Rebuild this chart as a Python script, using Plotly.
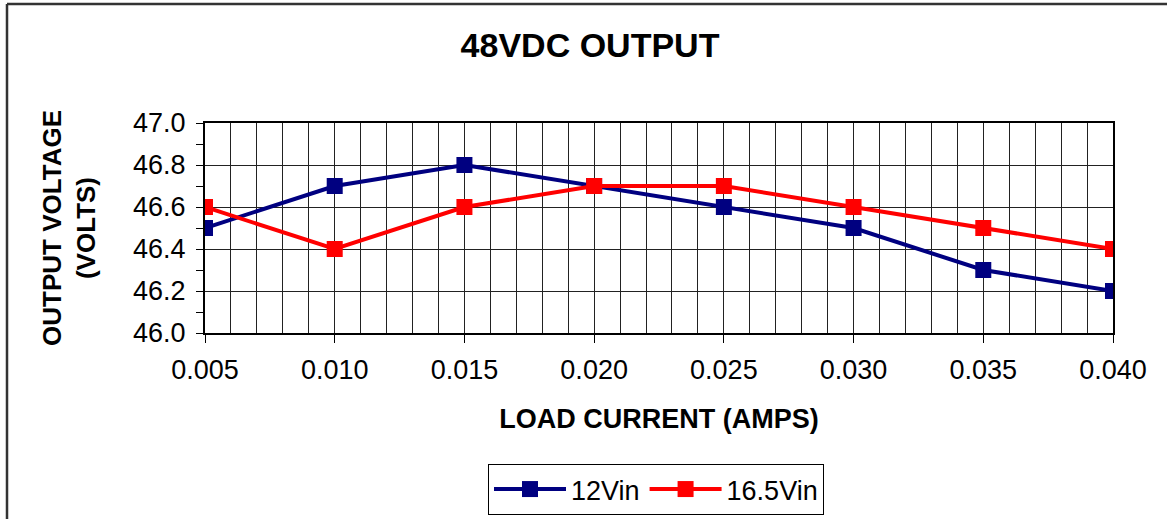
import plotly.graph_objects as go

load_current = [0.005, 0.010, 0.015, 0.020, 0.025, 0.030, 0.035, 0.040]
v_12vin = [46.5, 46.7, 46.8, 46.7, 46.6, 46.5, 46.3, 46.2]
v_16_5vin = [46.6, 46.4, 46.6, 46.7, 46.7, 46.6, 46.5, 46.4]
series_names = ["12Vin", "16.5Vin"]
x_ticks = ["0.005", "0.010", "0.015", "0.020", "0.025", "0.030", "0.035", "0.040"]

FONT = "Liberation Sans, Arial, sans-serif"
W, H = 1167, 519
L, R, T, B = 205, 54, 123, 186
pw, ph = W - L - R, H - T - B

fig = go.Figure()
fig.add_trace(go.Scatter(x=load_current, y=v_12vin, name=series_names[0], mode="lines+markers",
                         line=dict(color="#000080", width=4),
                         marker=dict(symbol="square", size=16, color="#000080")))
fig.add_trace(go.Scatter(x=load_current, y=v_16_5vin, name=series_names[1], mode="lines+markers",
                         line=dict(color="#FF0000", width=4),
                         marker=dict(symbol="square", size=16, color="#FF0000")))

fig.update_layout(
    width=W, height=H,
    margin=dict(l=L, r=R, t=T, b=B, autoexpand=False),
    paper_bgcolor="white", plot_bgcolor="white",
    font=dict(family=FONT, color="black"),
    title=dict(text="<b>48VDC OUTPUT</b>", x=590 / W, xanchor="center",
               y=1 - 45 / H, yanchor="middle", font=dict(size=34, family=FONT, color="black")),
    showlegend=True,
    legend=dict(orientation="h", x=(656 - L) / pw, xanchor="center",
                y=(T + ph - 464) / ph, yanchor="top",
                bordercolor="black", borderwidth=1, bgcolor="white",
                font=dict(size=27, family=FONT), itemwidth=72),
)

fig.update_xaxes(
    range=[0.005, 0.040], tickvals=load_current, ticktext=x_ticks,
    showline=True, linecolor="black", linewidth=2, mirror=True,
    ticks="outside", ticklen=8, tickcolor="black", tickwidth=1,
    showgrid=True, gridcolor="#222222", gridwidth=1,
    tickfont=dict(size=27, family=FONT), ticklabelstandoff=4,
    minor=dict(dtick=0.001, tick0=0.005, showgrid=True, gridcolor="#222222", gridwidth=1, ticks=""),
    title=dict(text="<b>LOAD CURRENT (AMPS)</b>", font=dict(size=27, family=FONT), standoff=25),
    zeroline=False, automargin=False,
)
fig.update_yaxes(
    range=[46.0, 47.0], dtick=0.2, tickformat=".1f",
    showline=True, linecolor="black", linewidth=2, mirror=True,
    ticks="outside", ticklen=7, tickcolor="black", tickwidth=1,
    showgrid=True, gridcolor="#222222", gridwidth=1,
    tickfont=dict(size=27, family=FONT), ticklabelstandoff=5,
    minor=dict(dtick=0.1, ticks="outside", ticklen=7, tickcolor="black", showgrid=False),
    title=dict(text="<b>OUTPUT VOLTAGE<br>(VOLTS)</b>", font=dict(size=26, family=FONT), standoff=30),
    zeroline=False, automargin=False,
)

# outer chart border (left and top edges visible)
bx0 = (7 - L) / pw
by1 = 1 + (T - 4) / ph
fig.add_shape(type="line", xref="paper", yref="paper", x0=bx0, x1=bx0, y0=-(B + 5) / ph, y1=by1,
              line=dict(color="#333333", width=2.5))
fig.add_shape(type="line", xref="paper", yref="paper", x0=bx0, x1=(W - L + 5) / pw, y0=by1, y1=by1,
              line=dict(color="#333333", width=2.5))

fig.write_html("out.html", config={"displayModeBar": False},
               post_script="document.body.style.margin='0';document.body.style.overflow='hidden';")
